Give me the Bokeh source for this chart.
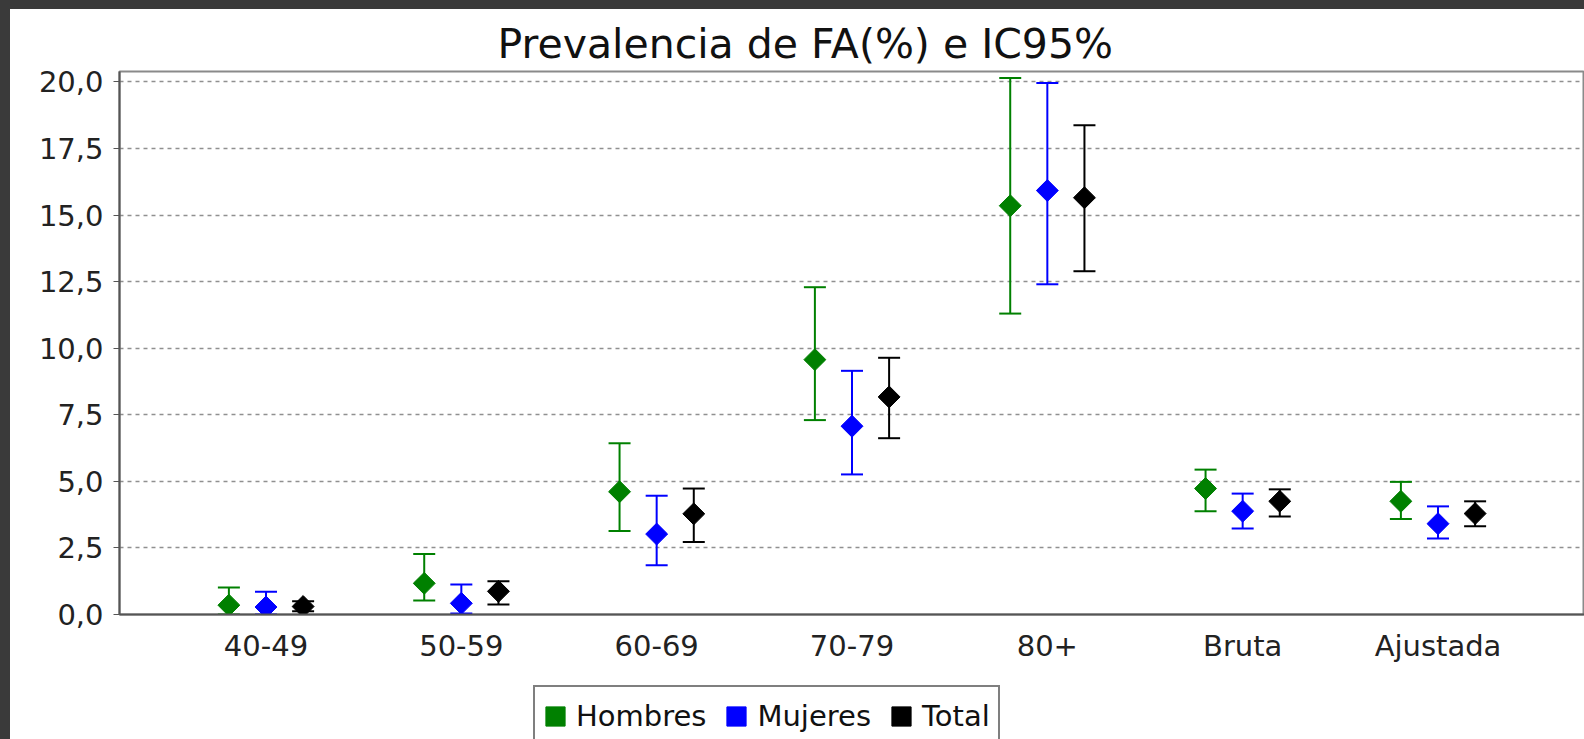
from math import pi
from bokeh.plotting import figure
from bokeh.models import (ColumnDataSource, Range1d, FixedTicker, Whisker, TeeHead,
                          Legend, LegendItem, Title)
from bokeh.layouts import column
from bokeh.transform import dodge
from bokeh.embed import file_html
from bokeh.resources import INLINE

categories = ["40-49", "50-59", "60-69", "70-79", "80+", "Bruta", "Ajustada"]

hombres = [0.35, 1.17, 4.61, 9.57, 15.35, 4.73, 4.25]
hombres_lo = [0.0, 0.53, 3.14, 7.30, 11.30, 3.88, 3.59]
hombres_hi = [1.01, 2.27, 6.43, 12.29, 20.15, 5.44, 4.98]

mujeres = [0.28, 0.42, 3.02, 7.07, 15.92, 3.88, 3.41]
mujeres_lo = [0.0, 0.04, 1.85, 5.26, 12.40, 3.23, 2.85]
mujeres_hi = [0.85, 1.13, 4.46, 9.15, 19.96, 4.54, 4.06]

total = [0.30, 0.87, 3.78, 8.17, 15.65, 4.25, 3.79]
total_lo = [0.12, 0.38, 2.72, 6.62, 12.89, 3.68, 3.31]
total_hi = [0.50, 1.25, 4.73, 9.64, 18.37, 4.70, 4.25]

series_names = ["Hombres", "Mujeres", "Total"]
series_colors = ["#008000", "#0000ff", "#000000"]
series_offsets = [-0.19, 0.0, 0.19]

y_ticks = [0, 2.5, 5, 7.5, 10, 12.5, 15, 17.5, 20]
y_tick_labels = ["0,0", "2,5", "5,0", "7,5", "10,0", "12,5", "15,0", "17,5", "20,0"]

FONT = "DejaVu Sans"

# ---------------- main chart ----------------
p = figure(width=1574, height=673, output_backend="svg", toolbar_location=None,
           x_range=Range1d(-0.75, 6.75), y_range=Range1d(0, 20.39),
           min_border_left=109, min_border_right=0, min_border_top=62,
           min_border_bottom=68, background_fill_color="white",
           border_fill_color="white")
p.margin = (9, 0, 0, 10)
p.styles = {"background-color": "white"}

p.title = Title(text="Prevalencia de FA(%) e IC95%", align="left", offset=378,
                vertical_align="top", text_font=FONT, text_font_size="41px",
                text_font_style="normal", text_color="#111111", standoff=4)

p.outline_line_color = "#8a8a8a"
p.outline_line_width = 2

p.xgrid.visible = False
p.ygrid.ticker = FixedTicker(ticks=y_ticks)
p.ygrid.grid_line_color = "#909090"
p.ygrid.grid_line_dash = "4 4"
p.ygrid.grid_line_width = 1.3

p.yaxis.ticker = FixedTicker(ticks=y_ticks)
p.yaxis.major_label_overrides = {t: l for t, l in zip(y_ticks, y_tick_labels)}
p.xaxis.ticker = FixedTicker(ticks=list(range(len(categories))))
p.xaxis.major_label_overrides = {i: c for i, c in enumerate(categories)}
for ax in (p.xaxis, p.yaxis):
    ax.axis_line_color = "#555555"
    ax.axis_line_width = 2
    ax.major_label_text_font = FONT
    ax.major_label_text_font_size = "29px"
    ax.major_label_text_color = "#222222"
    ax.minor_tick_line_color = None
    ax.major_tick_in = 0
p.yaxis.major_tick_out = 6
p.yaxis.major_tick_line_color = "#555555"
p.yaxis.major_label_standoff = 10
p.xaxis.major_tick_out = 0
p.xaxis.major_tick_line_color = None
p.xaxis.major_label_standoff = 14

all_vals = [(hombres, hombres_lo, hombres_hi), (mujeres, mujeres_lo, mujeres_hi),
            (total, total_lo, total_hi)]

for name, color, off, (v, lo, hi) in zip(series_names, series_colors, series_offsets, all_vals):
    src = ColumnDataSource(dict(x=list(range(len(categories))), y=v, lower=lo, upper=hi))
    w = Whisker(source=src, base=dodge("x", off), upper="upper", lower="lower",
                dimension="height", line_color=color, line_width=2, level="underlay",
                upper_head=TeeHead(size=22, line_color=color, line_width=2),
                lower_head=TeeHead(size=22, line_color=color, line_width=2))
    p.add_layout(w)
    p.scatter(x=dodge("x", off), y="y", source=src, marker="square", angle=pi / 4,
              size=15.5, fill_color=color, line_color=color)

# ---------------- legend strip ----------------
p2 = figure(width=1574, height=57, output_backend="svg", toolbar_location=None,
            x_axis_location=None, y_axis_location=None,
            x_range=Range1d(0, 1), y_range=Range1d(0, 1),
            min_border_left=109, min_border_right=0, min_border_top=0, min_border_bottom=0,
            background_fill_color="white", border_fill_color="white")
p2.margin = (0, 0, 0, 10)
p2.styles = {"background-color": "white"}
p2.outline_line_color = None
p2.grid.visible = False

nan = float("nan")
legend_items = []
for name, color in zip(series_names, series_colors):
    dummy = p2.quad(left=[nan], right=[nan], top=[nan], bottom=[nan],
                    fill_color=color, line_color=color)
    legend_items.append(LegendItem(label=name, renderers=[dummy]))

legend = Legend(items=legend_items, orientation="horizontal", location=(414, -8),
                label_text_font=FONT, label_text_font_size="29px", label_text_color="#111111",
                glyph_width=24, glyph_height=24, label_standoff=9, spacing=18,
                padding=8, margin=0, label_height=42,
                border_line_color="#000000", border_line_width=2,
                background_fill_color="white", background_fill_alpha=1)
p2.add_layout(legend, "center")

layout = column(p, p2, spacing=0, width=1584, height=739,
                styles={"background-color": "#3a3a3a"})

open("out.html", "w").write(file_html(layout, INLINE))
